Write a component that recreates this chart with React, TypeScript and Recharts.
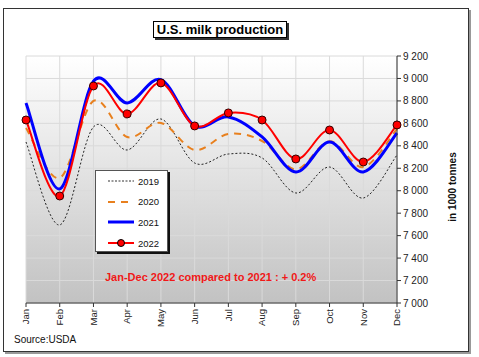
import React from 'react';
import { LineChart, Line, XAxis, YAxis, CartesianGrid } from 'recharts';

const months = ['Jan', 'Feb', 'Mar', 'Apr', 'May', 'Jun', 'Jul', 'Aug', 'Sep', 'Oct', 'Nov', 'Dec'];
const y2019 = [8434, 7695, 8568, 8363, 8639, 8247, 8327, 8292, 7980, 8211, 7935, 8318];
const y2020 = [8559, 8114, 8800, 8479, 8604, 8363, 8506, 8443, 8190, 8440, 8211, 8550];
const y2021 = [8782, 8016, 8975, 8782, 8990, 8577, 8657, 8479, 8167, 8434, 8167, 8514];
const y2022 = [8630, 7953, 8933, 8684, 8960, 8577, 8693, 8630, 8283, 8541, 8256, 8586];
const yTicks = [7000, 7200, 7400, 7600, 7800, 8000, 8200, 8400, 8600, 8800, 9000, 9200];
const seriesNames = ['2019', '2020', '2021', '2022'];

const data = months.map((m, i) => ({
  month: m,
  '2019': y2019[i],
  '2020': y2020[i],
  '2021': y2021[i],
  '2022': y2022[i],
}));

const catmull = (context: any) => {
  let pts: [number, number][] = [];
  return {
    areaStart() {},
    areaEnd() {},
    lineStart() {
      pts = [];
    },
    point(x: number, y: number) {
      pts.push([+x, +y]);
    },
    lineEnd() {
      const n = pts.length;
      if (!n) return;
      context.moveTo(pts[0][0], pts[0][1]);
      for (let i = 0; i < n - 1; i++) {
        const p0 = pts[Math.max(i - 1, 0)];
        const p1 = pts[i];
        const p2 = pts[i + 1];
        const p3 = pts[Math.min(i + 2, n - 1)];
        context.bezierCurveTo(
          p1[0] + (p2[0] - p0[0]) / 6,
          p1[1] + (p2[1] - p0[1]) / 6,
          p2[0] - (p3[0] - p1[0]) / 6,
          p2[1] - (p3[1] - p1[1]) / 6,
          p2[0],
          p2[1]
        );
      }
    },
  };
};

const fmt = (v: number) => {
  const s = String(v);
  return s.length > 3 ? s.slice(0, s.length - 3) + ' ' + s.slice(s.length - 3) : s;
};

const XTick = (props: any) => {
  const { x, y, payload } = props;
  return (
    <text
      x={x}
      y={y}
      transform={`rotate(-90 ${x} ${y})`}
      textAnchor="end"
      dy="0.35em"
      fontSize={9.5}
      fontFamily="Liberation Sans, Arial, sans-serif"
      fill="#222"
    >
      {payload.value}
    </text>
  );
};

const font = 'Liberation Sans, Arial, sans-serif';

const LegendRow = ({ name }: { name: string }) => {
  let sample: React.ReactNode = null;
  if (name === '2019') sample = <line x1={1} y1={5} x2={27} y2={5} stroke="#333" strokeWidth={1} strokeDasharray="2 1.5" />;
  if (name === '2020') sample = <line x1={1} y1={5} x2={27} y2={5} stroke="#E8801E" strokeWidth={2} strokeDasharray="7 6" />;
  if (name === '2021') sample = <line x1={1} y1={5} x2={27} y2={5} stroke="#0000FF" strokeWidth={3} />;
  if (name === '2022')
    sample = (
      <g>
        <line x1={1} y1={5} x2={27} y2={5} stroke="#FF0000" strokeWidth={2} />
        <circle cx={14} cy={5} r={3.5} fill="#FF0000" stroke="#000" strokeWidth={1} />
      </g>
    );
  return (
    <div style={{ display: 'flex', alignItems: 'center', height: 20.6 }}>
      <svg width={28} height={10} style={{ marginLeft: 11, marginRight: 3 }}>
        {sample}
      </svg>
      <span style={{ fontSize: 9.5, fontFamily: font, color: '#111' }}>{name}</span>
    </div>
  );
};

export default function App() {
  return (
    <div style={{ position: 'fixed', left: 0, top: 0, width: 479, height: 357, background: '#fff', overflow: 'hidden' }}>
      <div
        style={{
          position: 'absolute',
          left: 3,
          top: 8,
          width: 466,
          height: 344,
          boxSizing: 'border-box',
          border: '1px solid #333',
          boxShadow: '2px 2px 0 #999',
        }}
      />
      <div style={{ position: 'absolute', left: 0, top: 0 }}>
        <LineChart width={479} height={357} data={data} margin={{ top: 56, left: 26, right: 32, bottom: 14 }}>
          <defs>
            <linearGradient id="bgGrad" x1="0" y1="0" x2="0" y2="1">
              <stop offset="0%" stopColor="#ffffff" />
              <stop offset="45%" stopColor="#e4e4e4" />
              <stop offset="100%" stopColor="#c2c2c2" />
            </linearGradient>
          </defs>
          <CartesianGrid stroke="#dadada" strokeWidth={1} fill="url(#bgGrad)" />
          <XAxis
            dataKey="month"
            interval={0}
            height={40}
            tickSize={4}
            tickMargin={2}
            axisLine={{ stroke: '#333' }}
            tickLine={{ stroke: '#333' }}
            tick={<XTick />}
          />
          <YAxis
            orientation="right"
            width={50}
            domain={[7000, 9200]}
            ticks={yTicks}
            interval={0}
            tickSize={4}
            tickMargin={2}
            tickFormatter={fmt}
            axisLine={{ stroke: '#333' }}
            tickLine={{ stroke: '#333' }}
            tick={{ fontSize: 10, fontFamily: font, fill: '#222' }}
          />
          <Line dataKey="2019" type={catmull as any} stroke="#222" strokeWidth={1} strokeDasharray="2 2" dot={false} isAnimationActive={false} />
          <Line dataKey="2020" type={catmull as any} stroke="#E8801E" strokeWidth={2} strokeDasharray="7 6" dot={false} isAnimationActive={false} />
          <Line dataKey="2021" type={catmull as any} stroke="#0000FF" strokeWidth={3} dot={false} isAnimationActive={false} />
          <Line
            dataKey="2022"
            type={catmull as any}
            stroke="#FF0000"
            strokeWidth={2}
            dot={{ r: 4, fill: '#FF0000', stroke: '#300', strokeWidth: 1 }}
            isAnimationActive={false}
          />
        </LineChart>
      </div>
      <div
        style={{
          position: 'absolute',
          left: 153,
          top: 21,
          width: 134,
          height: 17,
          boxSizing: 'border-box',
          border: '1px solid #000',
          boxShadow: '2px 2px 0 #333',
          background: '#fff',
          fontFamily: font,
          fontWeight: 'bold',
          fontSize: 13,
          lineHeight: '15px',
          textAlign: 'center',
          color: '#000',
          whiteSpace: 'nowrap',
        }}
      >
        U.S. milk production
      </div>
      <div
        style={{
          position: 'absolute',
          left: 95,
          top: 170,
          width: 73,
          height: 82,
          boxSizing: 'border-box',
          border: '1px solid #555',
          boxShadow: '2px 2px 0 #111',
          background: '#fff',
          paddingTop: 0,
        }}
      >
        {seriesNames.map((n) => (
          <LegendRow key={n} name={n} />
        ))}
      </div>
      <div
        style={{
          position: 'absolute',
          left: 105,
          top: 271,
          fontFamily: font,
          fontWeight: 'bold',
          fontSize: 11,
          color: '#F01818',
          whiteSpace: 'nowrap',
        }}
      >
        Jan-Dec 2022 compared to 2021 : + 0.2%
      </div>
      <div
        style={{
          position: 'absolute',
          left: 452,
          top: 187,
          transform: 'translate(-50%, -50%) rotate(-90deg)',
          fontFamily: font,
          fontWeight: 'bold',
          fontSize: 10,
          color: '#111',
          whiteSpace: 'nowrap',
        }}
      >
        in 1000 tonnes
      </div>
      <div
        style={{
          position: 'absolute',
          left: 14,
          top: 334,
          fontFamily: font,
          fontSize: 10,
          color: '#111',
          whiteSpace: 'nowrap',
        }}
      >
        Source:USDA
      </div>
    </div>
  );
}
